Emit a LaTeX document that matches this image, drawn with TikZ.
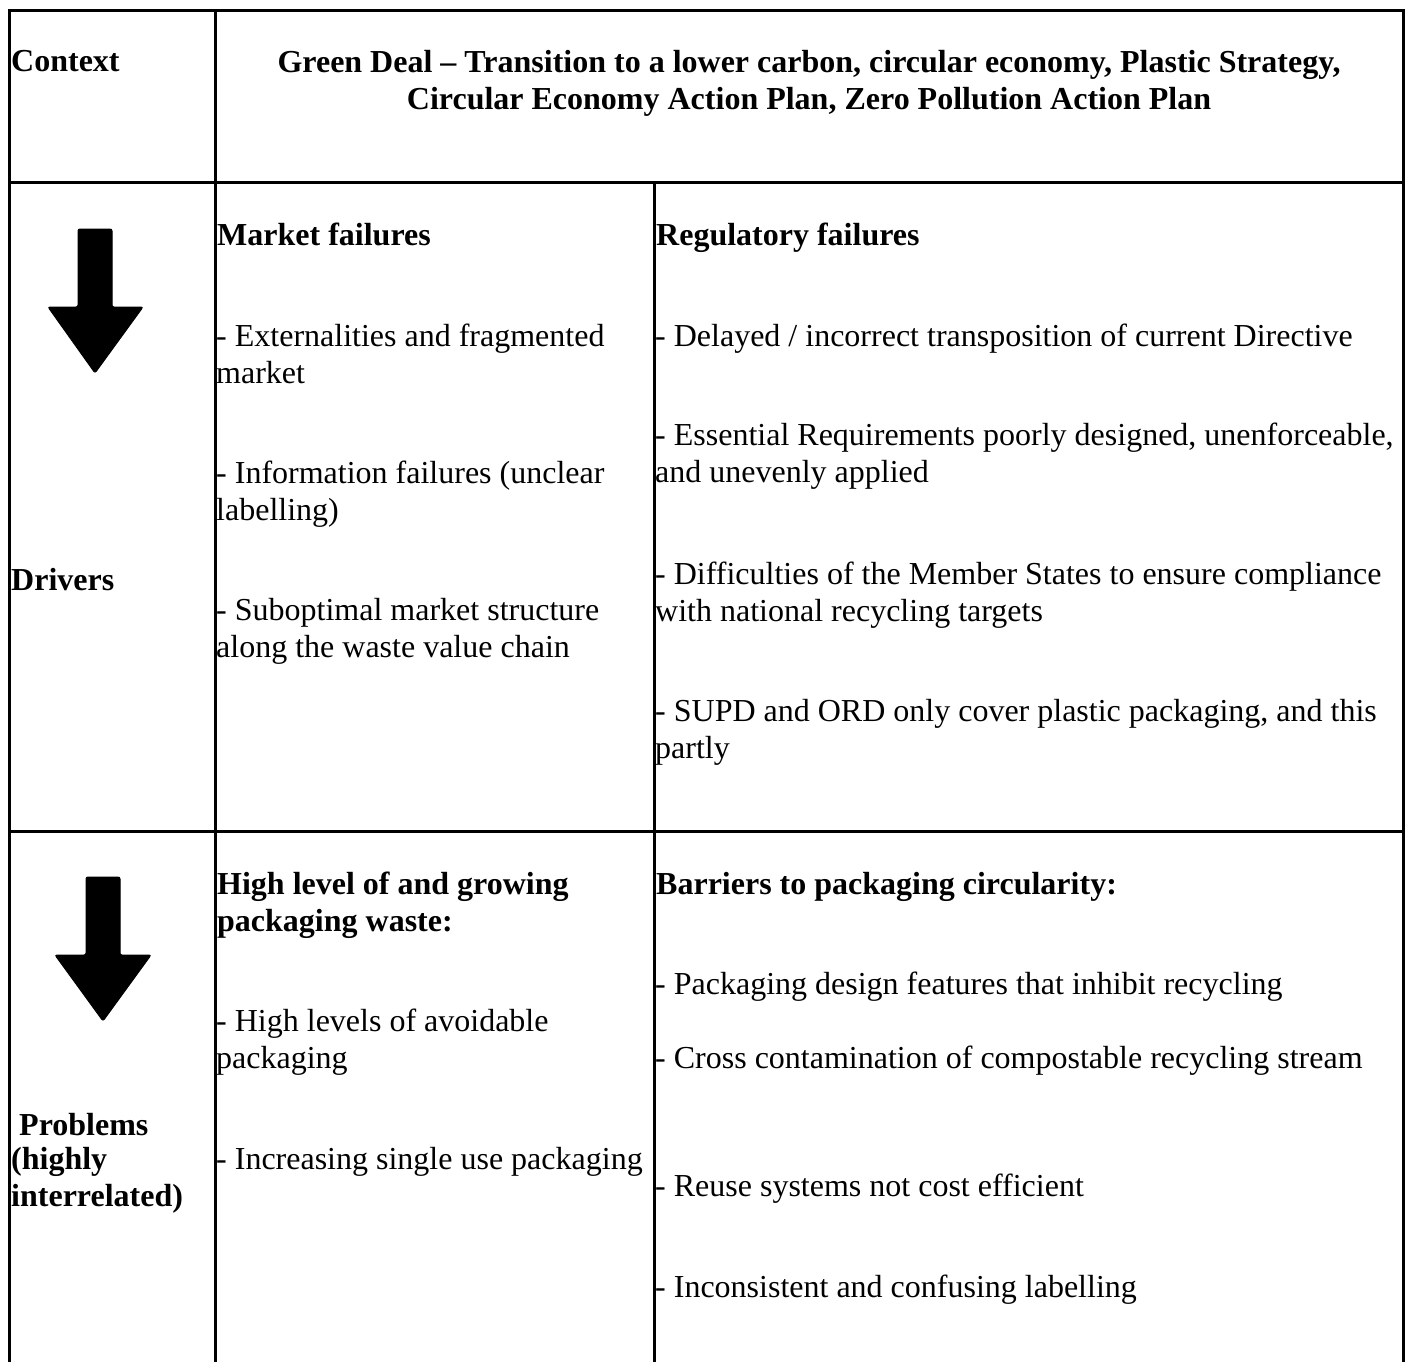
\documentclass[tikz,border=0pt]{standalone}
\usepackage{fontspec}
\setmainfont{Liberation Serif}
\begin{document}
\begin{tikzpicture}[x=1pt,y=-1pt,
  grid/.style={line width=3pt, black},
  txt/.style={anchor=base west, inner sep=0pt, font=\fontsize{32}{37}\selectfont},
  hdr/.style={anchor=base west, inner sep=0pt, font=\fontsize{32}{37}\selectfont\bfseries},
  ctr/.style={anchor=base, inner sep=0pt, font=\fontsize{32}{37}\selectfont\bfseries},
  bigarrow/.style={fill=black, draw=black, line width=1pt, rounded corners=2pt}]
\useasboundingbox (0,0) rectangle (1408,1362);
\fill[white] (0,0) rectangle (1408,1362);
% grid lines
\draw[grid] (9,1362) -- (9,11) -- (1403,11) -- (1403,1362);
\draw[grid] (215,11) -- (215,1362);
\draw[grid] (654,182) -- (654,1362);
\draw[grid] (9,182) -- (1403,182);
\draw[grid] (9,831) -- (1403,831);
% arrows
\draw[bigarrow] (78,229) -- (112,229) -- (112,307) -- (143,307) -- (95,373) -- (48,307) -- (78,307) -- cycle;
\draw[bigarrow] (86,877) -- (120,877) -- (120,955) -- (151,955) -- (103,1021) -- (55,955) -- (86,955) -- cycle;
% row 1
\node[hdr] (ctx) at (11,72) {Context};
\node[ctr] (gd1) at (809,73) {Green Deal – Transition to a lower carbon, circular economy, Plastic Strategy,};
\node[ctr] (gd2) at (809,110) {Circular Economy Action Plan, Zero Pollution Action Plan};
% row 2
\node[hdr] (drv) at (11,590) {Drivers};
\node[hdr] (mf) at (217,245) {Market failures};
\node[txt] (mf1a) at (216,346) {- Externalities and fragmented};
\node[txt] (mf1b) at (216,383) {market};
\node[txt] (mf2a) at (216,483) {- Information failures (unclear};
\node[txt] (mf2b) at (216,520) {labelling)};
\node[txt] (mf3a) at (216,620) {- Suboptimal market structure};
\node[txt] (mf3b) at (216,657) {along the waste value chain};
\node[hdr] (rf) at (656,245) {Regulatory failures};
\node[txt] (rf1) at (655,346) {- Delayed / incorrect transposition of current Directive};
\node[txt] (rf2a) at (655,445) {- Essential Requirements poorly designed, unenforceable,};
\node[txt] (rf2b) at (655,482) {and unevenly applied};
\node[txt] (rf3a) at (655,584) {- Difficulties of the Member States to ensure compliance};
\node[txt] (rf3b) at (655,621) {with national recycling targets};
\node[txt] (rf4a) at (655,721) {- SUPD and ORD only cover plastic packaging, and this};
\node[txt] (rf4b) at (655,758) {partly};
% row 3
\node[hdr] (pb1) at (11,1135) {\ Problems};
\node[hdr] (pb2) at (11,1169) {(highly};
\node[hdr] (pb3) at (11,1206) {interrelated)};
\node[hdr] (hl1) at (217,894) {High level of and growing};
\node[hdr] (hl2) at (217,931) {packaging waste:};
\node[txt] (hl3a) at (216,1031) {- High levels of avoidable};
\node[txt] (hl3b) at (216,1068) {packaging};
\node[txt] (hl4) at (216,1169) {- Increasing single use packaging};
\node[hdr] (bp) at (656,894) {Barriers to packaging circularity:};
\node[txt] (bp1) at (655,994) {- Packaging design features that inhibit recycling};
\node[txt] (bp2) at (655,1068) {- Cross contamination of compostable recycling stream};
\node[txt] (bp3) at (655,1196) {- Reuse systems not cost efficient};
\node[txt] (bp4) at (655,1297) {- Inconsistent and confusing labelling};
\end{tikzpicture}
\end{document}
